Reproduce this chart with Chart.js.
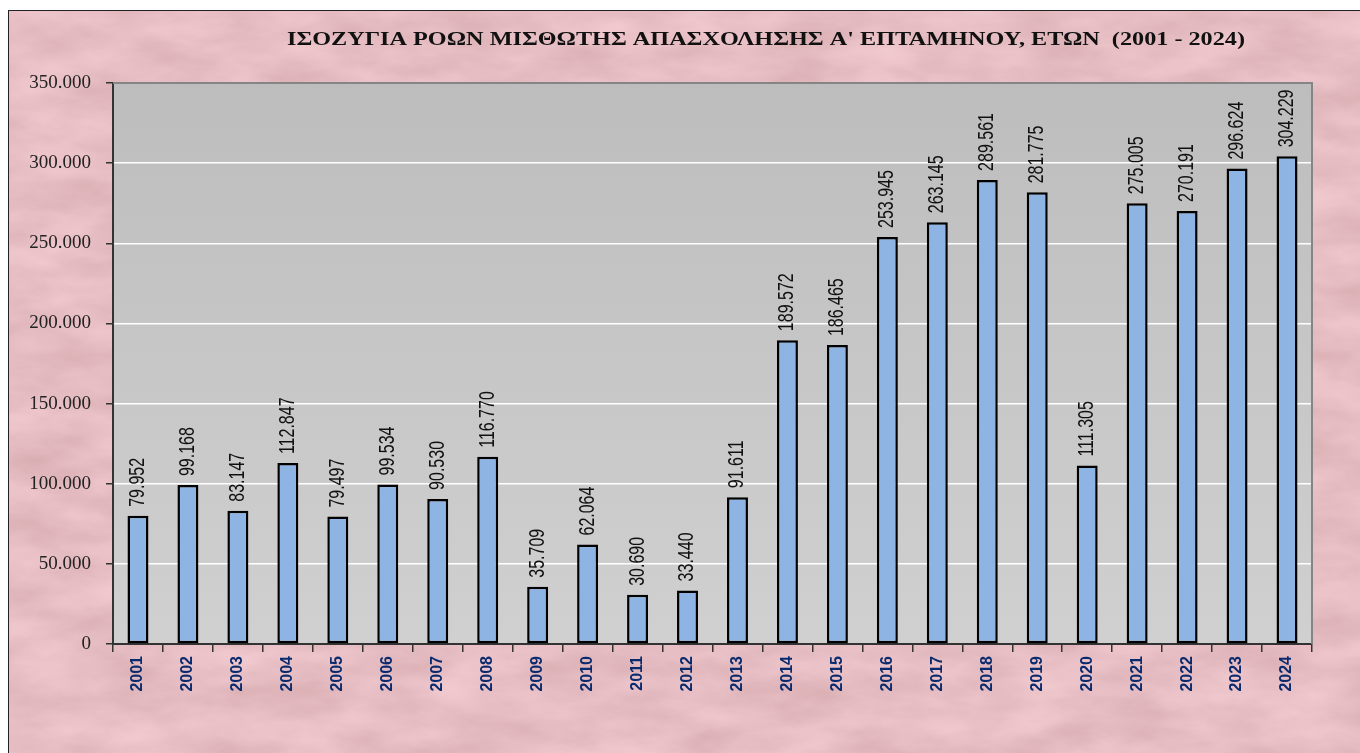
<!DOCTYPE html>
<html>
<head>
<meta charset="utf-8">
<script src="https://cdn.jsdelivr.net/npm/chart.js@4/dist/chart.umd.min.js"></script>
<style>
  html, body { margin: 0; padding: 0; background: #ffffff; width: 1360px; height: 753px; overflow: hidden; }
  #frame { position: absolute; left: 8px; top: 10px; width: 1400px; height: 800px;
           border-top: 1px solid #222; border-left: 1px solid #222; background-color: #E6BEC2; }
  #c { position: absolute; left: 0; top: 0; }
</style>
</head>
<body>
<div id="frame"></div>
<canvas id="c" width="1360" height="753"></canvas>
<script>
const titleText = "ΙΣΟΖΥΓΙΑ ΡΟΩΝ ΜΙΣΘΩΤΗΣ ΑΠΑΣΧΟΛΗΣΗΣ Α' ΕΠΤΑΜΗΝΟΥ, ΕΤΩΝ  (2001 - 2024)";
const years = ["2001","2002","2003","2004","2005","2006","2007","2008","2009","2010","2011","2012",
               "2013","2014","2015","2016","2017","2018","2019","2020","2021","2022","2023","2024"];
const balance = [79952, 99168, 83147, 112847, 79497, 99534, 90530, 116770, 35709, 62064, 30690, 33440,
                 91611, 189572, 186465, 253945, 263145, 289561, 281775, 111305, 275005, 270191, 296624, 304229];
const yMin = 0, yMax = 350000, yStep = 50000;

// marble-like background texture (decorative only)
const svg = "<svg xmlns='http://www.w3.org/2000/svg' width='1400' height='800'>" +
  "<filter id='n' x='0' y='0' width='100%' height='100%' color-interpolation-filters='sRGB'>" +
  "<feTurbulence type='fractalNoise' baseFrequency='0.012 0.03' numOctaves='5' seed='7'/>" +
  "<feColorMatrix type='matrix' values='0.12 0 0 0 0.84  0.14 0 0 0 0.67  0.14 0 0 0 0.69  0 0 0 0 1'/>" +
  "</filter><rect width='100%' height='100%' filter='url(#n)'/></svg>";
document.getElementById('frame').style.backgroundImage = 'url("data:image/svg+xml,' + encodeURIComponent(svg) + '")';

function fmt(v) {
  return String(Math.round(v)).replace(/\B(?=(\d{3})+(?!\d))/g, '.');
}

const decor = {
  id: 'decor',
  beforeDraw(chart) {
    const ctx = chart.ctx, a = chart.chartArea;
    ctx.save();
    const g = ctx.createLinearGradient(0, a.top, 0, a.bottom);
    g.addColorStop(0, '#BDBDBD');
    g.addColorStop(1, '#D0D0D0');
    ctx.fillStyle = g;
    ctx.fillRect(a.left, a.top, a.right - a.left, a.bottom - a.top);
    ctx.restore();
  },
  afterDraw(chart) {
    const ctx = chart.ctx, a = chart.chartArea;
    ctx.save();
    // top and right plot border
    ctx.strokeStyle = '#858585';
    ctx.lineWidth = 2;
    ctx.beginPath();
    ctx.moveTo(a.left, a.top);
    ctx.lineTo(a.right, a.top);
    ctx.lineTo(a.right, a.bottom);
    ctx.stroke();
    // data labels
    const meta = chart.getDatasetMeta(0);
    ctx.fillStyle = '#111';
    ctx.font = '16px "Liberation Sans", Arial, sans-serif';
    ctx.textAlign = 'left';
    ctx.textBaseline = 'middle';
    meta.data.forEach((bar, i) => {
      ctx.save();
      ctx.translate(bar.x, bar.y - 9);
      ctx.scale(1.35, 1);
      ctx.rotate(-Math.PI / 2);
      ctx.fillText(fmt(balance[i]), 0, 0);
      ctx.restore();
    });
    // title
    ctx.font = 'bold 18px "Liberation Serif", "Times New Roman", serif';
    ctx.fillStyle = '#111';
    ctx.textBaseline = 'alphabetic';
    ctx.textAlign = 'left';
    const w = ctx.measureText(titleText).width;
    const target = 958;
    ctx.translate(287, 45);
    ctx.scale(target / w, 1);
    ctx.fillText(titleText, 0, 0);
    ctx.restore();
  }
};

new Chart(document.getElementById('c'), {
  type: 'bar',
  data: {
    labels: years,
    datasets: [{
      data: balance,
      backgroundColor: '#8DB4E2',
      borderColor: '#000000',
      borderWidth: 2.5,
      borderSkipped: false,
      barPercentage: 0.42,
      categoryPercentage: 1.0
    }]
  },
  options: {
    responsive: false,
    devicePixelRatio: 1,
    animation: false,
    layout: { padding: { left: 8, top: 83, right: 48, bottom: 0 } },
    plugins: { legend: { display: false }, title: { display: false }, tooltip: { enabled: false } },
    scales: {
      x: {
        grid: { display: true, drawOnChartArea: false, offset: true, tickLength: 8, tickColor: '#333', lineWidth: 1.5 },
        border: { display: true, color: '#333', width: 2 },
        ticks: {
          minRotation: 90, maxRotation: 90, padding: 4,
          color: '#0A2A6E',
          font: { family: '"Liberation Sans", Arial, sans-serif', size: 16, weight: 'bold' }
        },
        afterFit(s) { s.height = 109; }
      },
      y: {
        min: yMin, max: yMax,
        grid: {
          color: (c) => (c.tick && (c.tick.value === yMin || c.tick.value === yMax)) ? 'rgba(0,0,0,0)' : '#FFFFFF',
          lineWidth: 1.5, tickLength: 7, tickColor: '#333'
        },
        border: { display: true, color: '#333', width: 2 },
        ticks: {
          stepSize: yStep, padding: 15, color: '#222',
          font: { family: '"Liberation Serif", "Times New Roman", serif', size: 19 },
          callback: (v) => fmt(v)
        },
        afterFit(s) { s.width = 105; }
      }
    }
  },
  plugins: [decor]
});
</script>
</body>
</html>
